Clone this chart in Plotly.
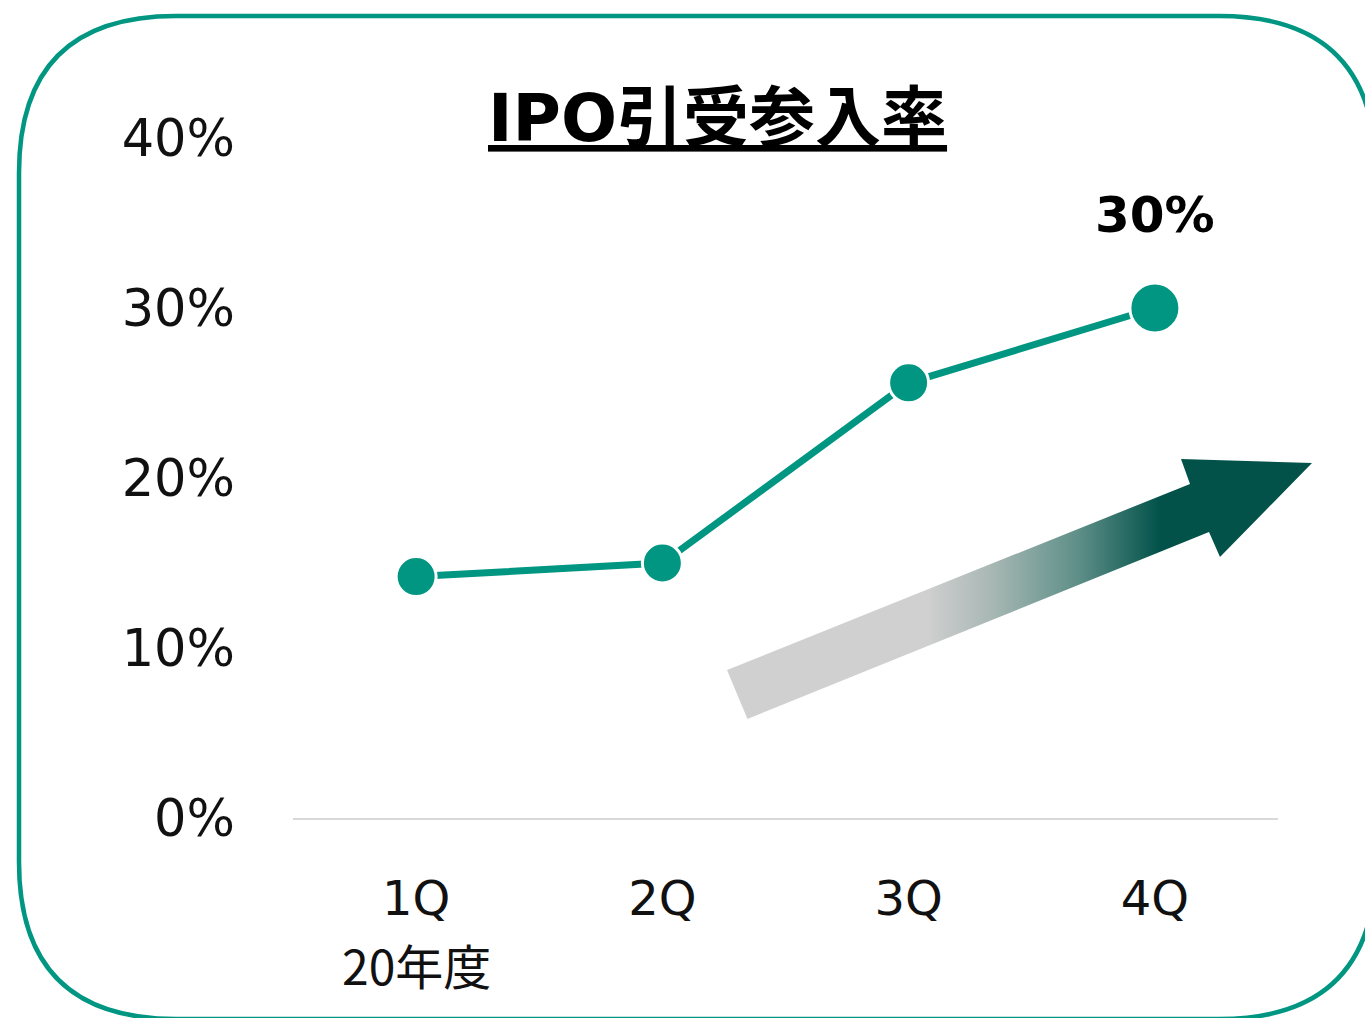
import plotly.graph_objects as go

# ---- data ----
quarters = ["1Q", "2Q", "3Q", "4Q"]
rates = [14.2, 15.0, 25.6, 30.0]
y_ticks = [0, 10, 20, 30, 40]
fiscal_label = "20年度"
title_text = "IPO引受参入率"

# ---- styling ----
W, H = 1365, 1018
TEAL = "#009682"
DARK = "#02524A"
GREY = "#D0D0D0"
FONT = "DejaVu Sans, Noto Sans CJK JP"

def px_x(v):
    return v / W

def px_y(v):
    return 1 - v / H

fig = go.Figure()

# main line chart
fig.add_trace(go.Scatter(
    x=quarters, y=rates, mode="lines+markers",
    line=dict(color=TEAL, width=7),
    marker=dict(size=[40, 40, 40, 50], color=TEAL, opacity=1,
                line=dict(color="white", width=3)),
    xaxis="x", yaxis="y", hoverinfo="skip", showlegend=False,
))

# decorative gradient arrow (drawn on a pixel-space overlay axis)
arrow_x = [727, 1190, 1181, 1312, 1220, 1209, 747.5, 727]
arrow_y = [670, 484, 459, 463, 557, 532, 719, 670]
fig.add_trace(go.Scatter(
    x=arrow_x, y=arrow_y, mode="lines", fill="toself",
    line=dict(width=0, color="rgba(0,0,0,0)"),
    fillgradient=dict(
        type="horizontal", start=727, stop=1312,
        colorscale=[[0, GREY], [0.34, GREY], [0.45, "#A9B8B5"],
                    [0.6, "#5E8F88"], [0.74, DARK], [1, DARK]],
    ),
    xaxis="x2", yaxis="y2", hoverinfo="skip", showlegend=False,
))

# rounded border
x0, y0, x1, y1, r = 19, 16, 1376, 1019, 157
border_path = (
    f"M {x0+r},{y0} L {x1-r},{y0} Q {x1},{y0} {x1},{y0+r} "
    f"L {x1},{y1-r} Q {x1},{y1} {x1-r},{y1} L {x0+r},{y1} "
    f"Q {x0},{y1} {x0},{y1-r} L {x0},{y0+r} Q {x0},{y0} {x0+r},{y0} Z"
)
fig.add_shape(type="path", path=border_path, xref="x2", yref="y2",
              line=dict(color=TEAL, width=4.5), fillcolor="rgba(0,0,0,0)", layer="above")

annotations = [
    dict(text=f"<u><b>{title_text}</b></u>", xref="x2", yref="y2", x=717, y=118,
         showarrow=False, font=dict(family=FONT, size=66, color="black"),
         xanchor="center", yanchor="middle"),
    dict(text=f"<b>{rates[-1]:.0f}%</b>", xref="x", yref="y", x=quarters[-1], y=rates[-1],
         yshift=93, showarrow=False, font=dict(family=FONT, size=50, color="black"),
         xanchor="center", yanchor="middle"),
    dict(text=fiscal_label, xref="x", yref="y2", x=quarters[0], y=964,
         showarrow=False, font=dict(family="Noto Sans CJK JP", size=48, color="#111"),
         xanchor="center", yanchor="middle"),
]

fig.update_layout(
    width=W, height=H,
    margin=dict(l=0, r=0, t=0, b=0, pad=0, autoexpand=False),
    paper_bgcolor="white", plot_bgcolor="rgba(0,0,0,0)",
    showlegend=False,
    annotations=annotations,
    xaxis=dict(
        domain=[px_x(293), px_x(1278)], range=[-0.5, 3.5], type="category",
        showgrid=False, zeroline=False, showline=True, linecolor="#D9D9D9", linewidth=2,
        ticks="", ticklabelstandoff=37, automargin=False,
        tickfont=dict(family=FONT, size=48, color="#111"), anchor="y",
    ),
    yaxis=dict(
        domain=[px_y(818), px_y(138)], range=[0, 40],
        tickvals=y_ticks, ticktext=[f"{v}%" for v in y_ticks],
        showgrid=False, zeroline=False, showline=False, ticks="",
        ticklabelstandoff=57, automargin=False,
        tickfont=dict(family=FONT, size=51, color="#111"), anchor="x",
    ),
    xaxis2=dict(domain=[0, 1], range=[0, W], visible=False, anchor="y2",
                fixedrange=True, automargin=False),
    yaxis2=dict(domain=[0, 1], range=[H, 0], visible=False, anchor="x2",
                fixedrange=True, automargin=False),
)

fig.write_html("out.html", config={"displayModeBar": False},
               post_script="document.body.style.margin='0';document.body.style.overflow='hidden';")
